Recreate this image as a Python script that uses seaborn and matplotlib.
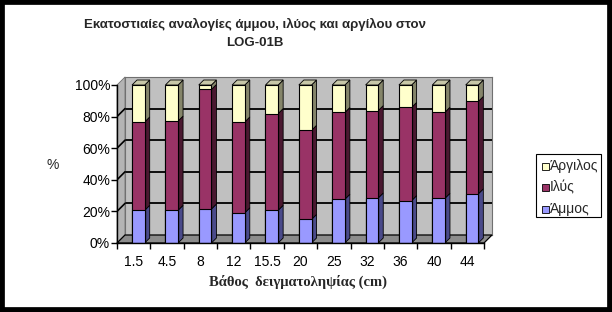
import matplotlib
matplotlib.use("Agg")
import matplotlib.pyplot as plt
from matplotlib.patches import Polygon, Rectangle
import seaborn as sns
import pandas as pd
import numpy as np

depths = ["1.5", "4.5", "8", "12", "15.5", "20", "25", "32", "36", "40", "44"]
sand = [20.7, 20.7, 21.5, 19.1, 20.7, 14.9, 27.7, 28.5, 26.8, 28.3, 31.1]
silt = [55.9, 56.5, 75.7, 57.5, 61.2, 56.4, 54.9, 55.3, 59.0, 54.5, 58.5]
clay = [round(100 - a - b, 1) for a, b in zip(sand, silt)]
yticks = [0, 20, 40, 60, 80, 100]
ytick_labels = ["0%", "20%", "40%", "60%", "80%", "100%"]

sns.set_theme(style="white")
plt.rcParams["font.family"] = ["Liberation Sans", "DejaVu Sans"]

W, H = 612, 312
fig = plt.figure(figsize=(W / 100, H / 100), dpi=100)
fig.patch.set_facecolor("white")

# front plane of the 3D box in pixels
fl, fr, fb, ft = 117, 484, 243, 85
off = 8  # wall depth in px
n = len(depths)

# back wall axes (shifted up/right) with gridlines
axb = fig.add_axes([(fl + off) / W, 1 - (fb - off) / H, (fr - fl) / W, (fb - ft) / H], zorder=0)
axb.set_xlim(-0.5, n - 0.5)
axb.set_ylim(0, 100)
axb.set_facecolor("#c0c0c0")
axb.set_xticks([])
axb.set_yticks([])
for s in axb.spines.values():
    s.set_color("#707070")
    s.set_linewidth(0.8)
for y in yticks[1:-1]:
    axb.axhline(y, color="black", lw=1.3, zorder=5)

# front axes with the bars
ax = fig.add_axes([fl / W, 1 - fb / H, (fr - fl) / W, (fb - ft) / H], zorder=1)
ax.set_facecolor("none")

df = pd.DataFrame({"depth": depths, "sand": sand, "silt": silt, "clay": clay})
df["top_silt"] = df["sand"] + df["silt"]
df["top_clay"] = df["top_silt"] + df["clay"]

c_clay, c_silt, c_sand = "#FFFFCC", "#993366", "#9999FF"
side = {c_clay: "#85856a", c_silt: "#4a1830", c_sand: "#4a4a8a"}
topc = {c_clay: "#c8c8a8", c_silt: "#7a2850", c_sand: "#7070c0"}

bw = 0.38
shift = 0.14
for col, c in [("top_clay", c_clay), ("top_silt", c_silt), ("sand", c_sand)]:
    sns.barplot(data=df, x="depth", y=col, color=c, width=bw, ax=ax,
                edgecolor="black", linewidth=0.8, saturation=1, zorder=3)
for p in ax.patches:
    p.set_x(p.get_x() + shift)
ax.set_xlim(-0.5, n - 0.5)
ax.set_ylim(0, 100)
ax.set_facecolor("none")

# pixel -> data conversion
pxx = (fr - fl) / n
pxy = (fb - ft) / 100.0
bd = 5   # bar depth in px
dxw, dyw = off / pxx, off / pxy
dxb, dyb = bd / pxx, bd / pxy


def poly(pts, **kw):
    ax.add_patch(Polygon(pts, closed=True, clip_on=False, **kw))


# left wall and floor
poly([(-0.5, 0), (-0.5 + dxw, dyw), (-0.5 + dxw, 100 + dyw), (-0.5, 100)],
     facecolor="#b4b4b4", edgecolor="#707070", lw=0.6, zorder=0.5)
poly([(-0.5, 0), (n - 0.5, 0), (n - 0.5 + dxw, dyw), (-0.5 + dxw, dyw)],
     facecolor="#8c8c8c", edgecolor="black", lw=0.9, zorder=1)
for y in yticks[1:-1]:
    ax.plot([-0.5, -0.5 + dxw], [y, y + dyw], color="black", lw=1.2, zorder=1.5)

# bar side and top faces
for i in range(n):
    xl = i - bw / 2 + shift
    xr = i + bw / 2 + shift
    segs = [(0, sand[i], c_sand), (sand[i], sand[i] + silt[i], c_silt), (sand[i] + silt[i], 100, c_clay)]
    for y0, y1, c in segs:
        poly([(xr, y0), (xr, y1), (xr + dxb, y1 + dyb), (xr + dxb, y0 + dyb)],
             facecolor=side[c], edgecolor="black", lw=0.6, zorder=2.5)
    poly([(xl, 100), (xr, 100), (xr + dxb, 100 + dyb), (xl + dxb, 100 + dyb)],
         facecolor=topc[c_clay], edgecolor="black", lw=0.6, zorder=2.5)

# axes styling
for s in ["top", "right"]:
    ax.spines[s].set_visible(False)
for s in ["left", "bottom"]:
    ax.spines[s].set_color("black")
    ax.spines[s].set_linewidth(1.0)
    ax.spines[s].set_zorder(4)
ax.set_yticks(yticks)
ax.set_yticklabels(ytick_labels)
ax.set_xticks(range(n))
ax.set_xticklabels(depths)
ax.set_xticks(np.arange(-0.5, n, 1.0), minor=True)
ax.tick_params(axis="x", which="major", length=0, pad=9, labelsize=10, labelcolor="black")
ax.tick_params(axis="x", which="minor", length=4, width=1.0, color="black", direction="out", bottom=True)
ax.tick_params(axis="y", length=4, width=1.0, color="black", direction="out", left=True, labelsize=10,
               labelcolor="black", pad=1)
ax.set_xlabel("")
ax.set_ylabel("")
ax.grid(False)

fig.text(53 / W, 1 - 165 / H, "%", ha="center", va="center", fontsize=10)
fig.text(298 / W, 1 - 282 / H, "Βάθος  δειγματοληψίας (cm)", ha="center", va="center", fontsize=10.5,
         fontweight="bold", family=["Liberation Serif", "DejaVu Serif"])
fig.text(255 / W, 1 - 24 / H, "Εκατοστιαίες αναλογίες άμμου, ιλύος και αργίλου στον", ha="center",
         va="center", fontsize=9.5, fontweight="bold")
fig.text(255 / W, 1 - 43 / H, "LOG-01B", ha="center", va="center", fontsize=9.5, fontweight="bold")

# legend
lx0, ly0, lx1, ly1 = 536, 154, 601, 217
fig.patches.append(Rectangle((lx0 / W, 1 - ly1 / H), (lx1 - lx0) / W, (ly1 - ly0) / H, transform=fig.transFigure,
                             facecolor="white", edgecolor="black", lw=0.8, zorder=5))
for k, (lab, c) in enumerate([("Άργιλος", c_clay), ("Ιλύς", c_silt), ("Άμμος", c_sand)]):
    yy = 166 + 21.5 * k
    fig.patches.append(Rectangle((542 / W, 1 - (yy + 3.5) / H), 7 / W, 7 / H, transform=fig.transFigure,
                                 facecolor=c, edgecolor="black", lw=0.6, zorder=6))
    fig.text(550 / W, 1 - yy / H, lab, ha="left", va="center", fontsize=10, zorder=7)

# outer black frame
fig.patches.append(Rectangle((0, 0), 1, 1, transform=fig.transFigure, facecolor="none",
                             edgecolor="black", lw=7, zorder=10))

fig.savefig("out.png", dpi=100)
